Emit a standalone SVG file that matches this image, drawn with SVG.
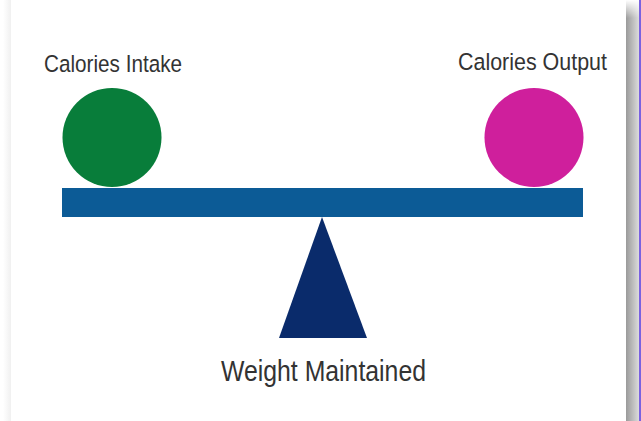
<svg xmlns="http://www.w3.org/2000/svg" width="641" height="421" viewBox="0 0 641 421">
  <defs>
    <linearGradient id="rightShade" x1="0" y1="0" x2="1" y2="0">
      <stop offset="0" stop-color="#9a9a9a"/>
      <stop offset="1" stop-color="#dcdcdc"/>
    </linearGradient>
    <linearGradient id="topFade" x1="0" y1="0" x2="0" y2="1">
      <stop offset="0" stop-color="#ffffff" stop-opacity="1"/>
      <stop offset="1" stop-color="#ffffff" stop-opacity="0"/>
    </linearGradient>
    <linearGradient id="leftShade" x1="0" y1="0" x2="1" y2="0">
      <stop offset="0" stop-color="#ffffff"/>
      <stop offset="1" stop-color="#f0f0f0"/>
    </linearGradient>
  </defs>
  <style>
    .label { font-family: "Liberation Sans", Arial, sans-serif; fill: #333333; }
  </style>
  <rect x="0" y="0" width="641" height="421" fill="#ffffff"/>
  <!-- frame edges -->
  <rect x="3" y="0" width="8" height="421" fill="url(#leftShade)"/>
  <rect x="626" y="0" width="13" height="421" fill="url(#rightShade)"/>
  <rect x="626" y="0" width="13" height="18" fill="url(#topFade)"/>
  <rect x="639" y="0" width="2" height="421" fill="#7a62e0"/>

  <g id="beam">
    <rect x="62" y="188" width="521" height="29" fill="#0c5b96"/>
  </g>
  <g id="fulcrum">
    <polygon points="322,217 367,338 279,338" fill="#0a2b6b"/>
  </g>
  <g id="intake">
    <circle cx="112" cy="137.5" r="49.5" fill="#087d3a"/>
    <text class="label" x="44" y="71.5" font-size="24.5" textLength="138" lengthAdjust="spacingAndGlyphs">Calories Intake</text>
  </g>
  <g id="output">
    <circle cx="534" cy="137.5" r="49.5" fill="#cf1f9c"/>
    <text class="label" x="458" y="70" font-size="24.5" textLength="149" lengthAdjust="spacingAndGlyphs">Calories Output</text>
  </g>
  <g id="result">
    <text class="label" x="221" y="381" font-size="29" textLength="205" lengthAdjust="spacingAndGlyphs">Weight Maintained</text>
  </g>
</svg>
